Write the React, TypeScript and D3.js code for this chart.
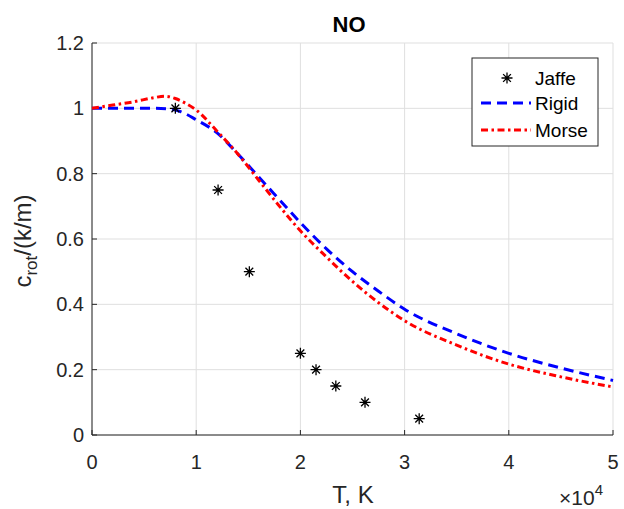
import React from "react";
import * as d3 from "d3";

const jaffeT = [8000, 12100, 15100, 20000, 21500, 23400, 26200, 31400];
const jaffeC = [1.0, 0.75, 0.5, 0.25, 0.2, 0.15, 0.1, 0.05];

const rigidT = [0, 2000, 4000, 6000, 7500, 8500, 10000, 12000, 14000, 16000, 18000, 20000, 22500, 25000, 27500, 30000, 35000, 40000, 45000, 50000];
const rigidC = [1.0, 1.0, 1.0, 1.0, 0.998, 0.99, 0.965, 0.925, 0.86, 0.79, 0.72, 0.65, 0.57, 0.5, 0.44, 0.385, 0.31, 0.25, 0.205, 0.167];

const morseT = [0, 2000, 4000, 6000, 7000, 8000, 9000, 10000, 12000, 14000, 16000, 18000, 20000, 22500, 25000, 27500, 30000, 35000, 40000, 45000, 50000];
const morseC = [1.0, 1.01, 1.02, 1.033, 1.037, 1.03, 1.015, 0.995, 0.93, 0.86, 0.78, 0.7, 0.625, 0.545, 0.47, 0.405, 0.35, 0.275, 0.217, 0.178, 0.147];

const xTicks = [0, 10000, 20000, 30000, 40000, 50000];
const xTickLabels = ["0", "1", "2", "3", "4", "5"];
const yTicks = [0, 0.2, 0.4, 0.6, 0.8, 1.0, 1.2];
const yTickLabels = ["0", "0.2", "0.4", "0.6", "0.8", "1", "1.2"];
const legendLabels = ["Jaffe", "Rigid", "Morse"];

const W = 624, H = 509;
const L = 92, R = 613, T = 43, B = 435;
const font = "'Liberation Sans', Arial, Helvetica, sans-serif";
const axisColor = "#262626";

function star(cx: number, cy: number, r: number) {
  const d = r * 0.7071;
  return `M${cx - r},${cy}L${cx + r},${cy}M${cx},${cy - r}L${cx},${cy + r}M${cx - d},${cy - d}L${cx + d},${cy + d}M${cx - d},${cy + d}L${cx + d},${cy - d}`;
}

export default function App() {
  const x = d3.scaleLinear().domain([0, 50000]).range([L, R]);
  const y = d3.scaleLinear().domain([0, 1.2]).range([B, T]);
  const line = d3.line<[number, number]>().x(d => x(d[0])).y(d => y(d[1])).curve(d3.curveMonotoneX);
  const rigid = line(rigidT.map((t, i) => [t, rigidC[i]]) as [number, number][]) || "";
  const morse = line(morseT.map((t, i) => [t, morseC[i]]) as [number, number][]) || "";

  const lgX = 472, lgY = 58, lgW = 126, lgH = 88;
  const rows = [78, 103, 130];
  const blueDash = "10 6";
  const redDash = "7 3.5 2.5 3.5";

  return (
    <svg width={W} height={H} style={{ position: "absolute", left: 0, top: 0 }} fontFamily={font}>
      <rect x={0} y={0} width={W} height={H} fill="#fff" />
      {xTicks.map(t => (
        <line key={"gx" + t} x1={x(t)} x2={x(t)} y1={T} y2={B} stroke="#dfdfdf" strokeWidth={1} />
      ))}
      {yTicks.map(t => (
        <line key={"gy" + t} x1={L} x2={R} y1={y(t)} y2={y(t)} stroke="#dfdfdf" strokeWidth={1} />
      ))}
      <line x1={L} x2={R} y1={B} y2={B} stroke={axisColor} strokeWidth={1} />
      <line x1={L} x2={L} y1={T} y2={B} stroke={axisColor} strokeWidth={1} />
      {xTicks.map((t, i) => (
        <g key={"xt" + t}>
          <line x1={x(t)} x2={x(t)} y1={B} y2={B - 5} stroke={axisColor} />
          <text x={x(t)} y={469} textAnchor="middle" fontSize={20} fill={axisColor}>{xTickLabels[i]}</text>
        </g>
      ))}
      {yTicks.map((t, i) => (
        <g key={"yt" + t}>
          <line x1={L} x2={L + 5} y1={y(t)} y2={y(t)} stroke={axisColor} />
          <text x={L - 8} y={y(t) + 7} textAnchor="end" fontSize={20} fill={axisColor}>{yTickLabels[i]}</text>
        </g>
      ))}
      <path d={rigid} fill="none" stroke="#0000ff" strokeWidth={3} strokeDasharray={blueDash} />
      <path d={morse} fill="none" stroke="#ff0000" strokeWidth={3} strokeDasharray={redDash} />
      {jaffeT.map((t, i) => (
        <path key={"j" + i} d={star(x(t), y(jaffeC[i]), 5.5)} stroke="#000" strokeWidth={1.3} fill="none" />
      ))}
      <text x={349} y={32} textAnchor="middle" fontSize={22} fontWeight="bold" fill="#000">NO</text>
      <text x={353} y={503} textAnchor="middle" fontSize={24} fill={axisColor}>T, K</text>
      <text x={559} y={505} fontSize={21} fill={axisColor}>×10<tspan dy={-10} fontSize={15}>4</tspan></text>
      <text transform={`translate(31, ${(T + B) / 2 + 2}) rotate(-90)`} textAnchor="middle" fontSize={24} fill={axisColor}>
        c<tspan dy={6} fontSize={17}>rot</tspan><tspan dy={-6}>/(k/m)</tspan>
      </text>
      <rect x={lgX} y={lgY} width={lgW} height={lgH} fill="#fff" stroke={axisColor} strokeWidth={1} />
      <path d={star(507, rows[0], 5.5)} stroke="#000" strokeWidth={1.3} fill="none" />
      <line x1={481} x2={531} y1={rows[1]} y2={rows[1]} stroke="#0000ff" strokeWidth={3} strokeDasharray={blueDash} />
      <line x1={481} x2={531} y1={rows[2]} y2={rows[2]} stroke="#ff0000" strokeWidth={3} strokeDasharray={redDash} />
      {legendLabels.map((s, i) => (
        <text key={s} x={535} y={rows[i] + 7} fontSize={19} fill="#000">{s}</text>
      ))}
    </svg>
  );
}
